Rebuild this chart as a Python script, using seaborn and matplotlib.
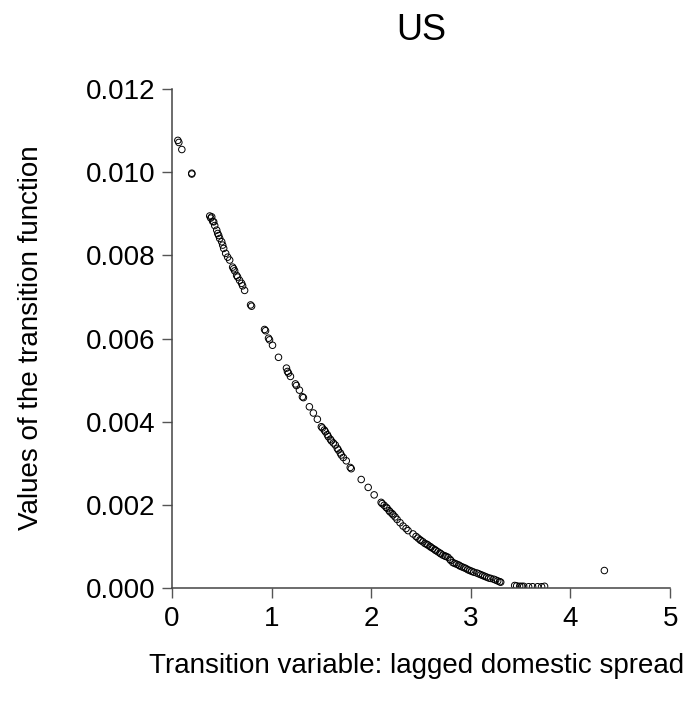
import matplotlib
matplotlib.use('Agg')
import matplotlib.pyplot as plt
import seaborn as sns
import pandas as pd

# values
spread = [0.06, 0.07, 0.10, 0.20, 0.20, 0.38, 0.39, 0.40, 0.41, 0.42, 0.43, 0.45, 0.46, 0.47, 0.48,
          0.50, 0.51, 0.52, 0.54, 0.56, 0.58, 0.61, 0.62, 0.63, 0.65, 0.66, 0.68, 0.70, 0.71, 0.73,
          0.79, 0.80, 0.93, 0.94, 0.97, 0.98, 1.01, 1.07, 1.15, 1.16, 1.17, 1.19, 1.24, 1.25, 1.28,
          1.31, 1.32, 1.38, 1.42, 1.46, 1.50, 1.51, 1.53, 1.54, 1.56, 1.57, 1.59, 1.60, 1.62, 1.64,
          1.66, 1.67, 1.69, 1.70, 1.72, 1.75, 1.79, 1.80, 1.90, 1.97, 2.03, 2.10, 2.11, 2.13, 2.15,
          2.16, 2.18, 2.19, 2.21, 2.22, 2.24, 2.26, 2.29, 2.32, 2.35, 2.37, 2.42, 2.45, 2.47, 2.49,
          2.50, 2.52, 2.54, 2.56, 2.57, 2.59, 2.60, 2.62, 2.64, 2.65, 2.67, 2.69, 2.70, 2.72, 2.74,
          2.75, 2.77, 2.79, 2.80, 2.82, 2.84, 2.86, 2.88, 2.89, 2.91, 2.93, 2.95, 2.97, 2.99, 3.01,
          3.03, 3.06, 3.08, 3.10, 3.12, 3.14, 3.16, 3.18, 3.20, 3.23, 3.25, 3.27, 3.29, 3.30, 3.44,
          3.46, 3.49, 3.51, 3.53, 3.58, 3.62, 3.67, 3.71, 3.74, 4.34]
transition = [0.01077, 0.01072, 0.01055, 0.00998, 0.00996, 0.00895, 0.00890, 0.00893, 0.00882, 0.00881,
              0.00872, 0.00861, 0.00853, 0.00848, 0.00841, 0.00833, 0.00825, 0.00817, 0.00805, 0.00796,
              0.00789, 0.00772, 0.00768, 0.00763, 0.00752, 0.00748, 0.00740, 0.00733, 0.00727, 0.00716,
              0.00681, 0.00678, 0.00622, 0.00619, 0.00601, 0.00597, 0.00584, 0.00555, 0.00529, 0.00521,
              0.00517, 0.00509, 0.00491, 0.00487, 0.00476, 0.00460, 0.00458, 0.00436, 0.00421, 0.00406,
              0.00388, 0.00385, 0.00380, 0.00376, 0.00369, 0.00364, 0.00358, 0.00354, 0.00349, 0.00344,
              0.00336, 0.00332, 0.00325, 0.00320, 0.00314, 0.00306, 0.00290, 0.00287, 0.00261, 0.00242,
              0.00224, 0.00206, 0.00203, 0.00199, 0.00194, 0.00192, 0.00186, 0.00183, 0.00179, 0.00176,
              0.00171, 0.00165, 0.00157, 0.00149, 0.00143, 0.00138, 0.00130, 0.00124, 0.00120, 0.00116,
              0.00114, 0.00111, 0.00107, 0.00105, 0.00103, 0.00100, 0.00098, 0.00095, 0.00092, 0.00090,
              0.00087, 0.00084, 0.00082, 0.00079, 0.00077, 0.00076, 0.00074, 0.00069, 0.00066, 0.00061,
              0.00059, 0.00057, 0.00055, 0.00053, 0.00051, 0.00049, 0.00047, 0.00044, 0.00042, 0.00040,
              0.00038, 0.00036, 0.00034, 0.00032, 0.00030, 0.00028, 0.00026, 0.00024, 0.00023, 0.00021,
              0.00019, 0.00017, 0.00015, 0.00014, 0.00006, 0.00005, 0.00004, 0.00004, 0.00004, 0.00003,
              0.00003, 0.00003, 0.00003, 0.00004, 0.00042]
x_ticks = [0, 1, 2, 3, 4, 5]
y_ticks = [0.000, 0.002, 0.004, 0.006, 0.008, 0.010, 0.012]
y_tick_labels = ['0.000', '0.002', '0.004', '0.006', '0.008', '0.010', '0.012']

df = pd.DataFrame({'spread': spread, 'transition': transition})

sns.set_style('ticks')
plt.rcParams['font.family'] = ['Liberation Sans', 'DejaVu Sans']
plt.rcParams['text.color'] = 'black'

fig = plt.figure(figsize=(6.93, 7.14), dpi=100)
ax = fig.add_axes([0.248, 0.1765, 0.719, 0.6985])

sns.scatterplot(data=df, x='spread', y='transition', ax=ax, marker='o', s=22,
                facecolors='none', edgecolor='black', linewidth=0.7)

ax.set_xlim(0, 5)
ax.set_ylim(0, 0.012)
ax.set_xticks(x_ticks)
ax.set_yticks(y_ticks)
ax.set_yticklabels(y_tick_labels)
ax.tick_params(axis='both', direction='out', length=7, width=1, color='#555555',
               labelsize=20, labelcolor='black', pad=5)
ax.tick_params(axis='x', pad=6)
for side in ['top', 'right']:
    ax.spines[side].set_visible(False)
for side in ['left', 'bottom']:
    ax.spines[side].set_color('#444444')
    ax.spines[side].set_linewidth(1.1)

ax.set_xlabel('')
ax.set_ylabel('')
fig.text(421 / 693, 1 - 30 / 714, 'US', ha='center', va='center', fontsize=26, color='black')
fig.text(31 / 693, 1 - 338 / 714, 'Values of the transition function', rotation=90,
         ha='center', va='center', fontsize=20, color='black')
fig.text(417 / 693, 1 - 666 / 714, 'Transition variable: lagged domestic spread',
         ha='center', va='center', fontsize=20, color='black')

fig.savefig('out.png', dpi=100)
plt.close(fig)
